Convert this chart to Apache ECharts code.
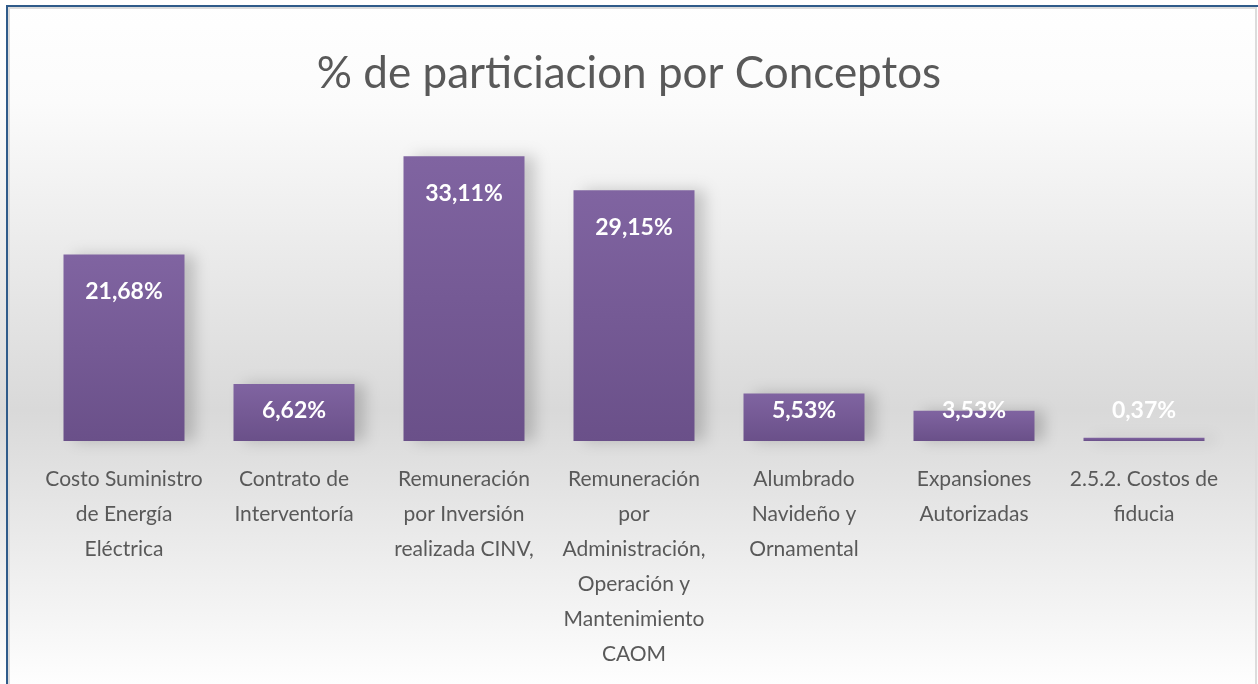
<!DOCTYPE html>
<html>
<head>
<meta charset="utf-8">
<script src="https://cdn.jsdelivr.net/npm/echarts@6/dist/echarts.min.js"></script>
<style>
  html, body { margin: 0; padding: 0; background: #fff; }
  #chart { width: 1258px; height: 684px; }
</style>
</head>
<body>
<div id="chart"></div>
<script>
// categories (line breaks as in the original chart)
var categories = [
    'Costo Suministro\nde Energía\nEléctrica',
    'Contrato de\nInterventoría',
    'Remuneración\npor Inversión\nrealizada CINV,',
    'Remuneración\npor\nAdministración,\nOperación y\nMantenimiento\nCAOM',
    'Alumbrado\nNavideño y\nOrnamental',
    'Expansiones\nAutorizadas',
    '2.5.2. Costos de\nfiducia'
];
var values = [21.68, 6.62, 33.11, 29.15, 5.53, 3.53, 0.37];

var chart = echarts.init(document.getElementById('chart'));

// small bars get their label near the bottom, like the original
var seriesData = values.map(function (v) {
    return {
        value: v,
        label: v < 8 ? { position: 'insideBottom', distance: 19 } : { position: 'insideTop', distance: 26 }
    };
});

var option = {
    backgroundColor: {
        type: 'linear', x: 0, y: 0, x2: 0, y2: 1,
        colorStops: [
            { offset: 0, color: '#ffffff' },
            { offset: 0.15, color: '#fbfbfb' },
            { offset: 0.6, color: '#d9d9d9' },
            { offset: 0.7, color: '#e2e2e2' },
            { offset: 1, color: '#fefefe' }
        ]
    },
    title: {
        text: '% de particiacion por Conceptos',
        left: 'center',
        top: 47,
        textStyle: {
            fontFamily: 'Lato',
            fontSize: 44,
            fontWeight: 'normal',
            color: '#595959'
        }
    },
    grid: {
        left: 39,
        right: 29,
        top: 140,
        bottom: 243
    },
    xAxis: {
        type: 'category',
        data: categories,
        axisLine: { show: false },
        axisTick: { show: false },
        axisLabel: {
            interval: 0,
            margin: 21,
            lineHeight: 35,
            fontFamily: 'Lato',
            fontSize: 21,
            color: '#595959'
        }
    },
    yAxis: {
        type: 'value',
        min: 0,
        max: 35,
        show: false
    },
    series: [{
        type: 'bar',
        data: seriesData,
        barWidth: 121,
        itemStyle: {
            color: {
                type: 'linear', x: 0, y: 0, x2: 0, y2: 1,
                colorStops: [
                    { offset: 0, color: '#8064a1' },
                    { offset: 1, color: '#6a5089' }
                ]
            },
            shadowColor: 'rgba(0,0,0,0.18)',
            shadowBlur: 14,
            shadowOffsetX: 10,
            shadowOffsetY: 0
        },
        label: {
            show: true,
            formatter: function (p) {
                return p.value.toFixed(2).replace('.', ',') + '%';
            },
            color: '#ffffff',
            fontFamily: 'Lato',
            fontWeight: 'bold',
            fontSize: 23
        }
    }],
    graphic: [{
        type: 'rect',
        shape: { x: 7, y: 6, width: 1260, height: 700 },
        style: { fill: 'none', stroke: '#2f5b8a', lineWidth: 2 },
        z: 100
    }, {
        type: 'rect',
        shape: { x: 9, y: 8, width: 1247, height: 690 },
        style: { fill: 'none', stroke: '#dcdcdc', lineWidth: 2 },
        z: 99
    }]
};

chart.setOption(option);
</script>
</body>
</html>
